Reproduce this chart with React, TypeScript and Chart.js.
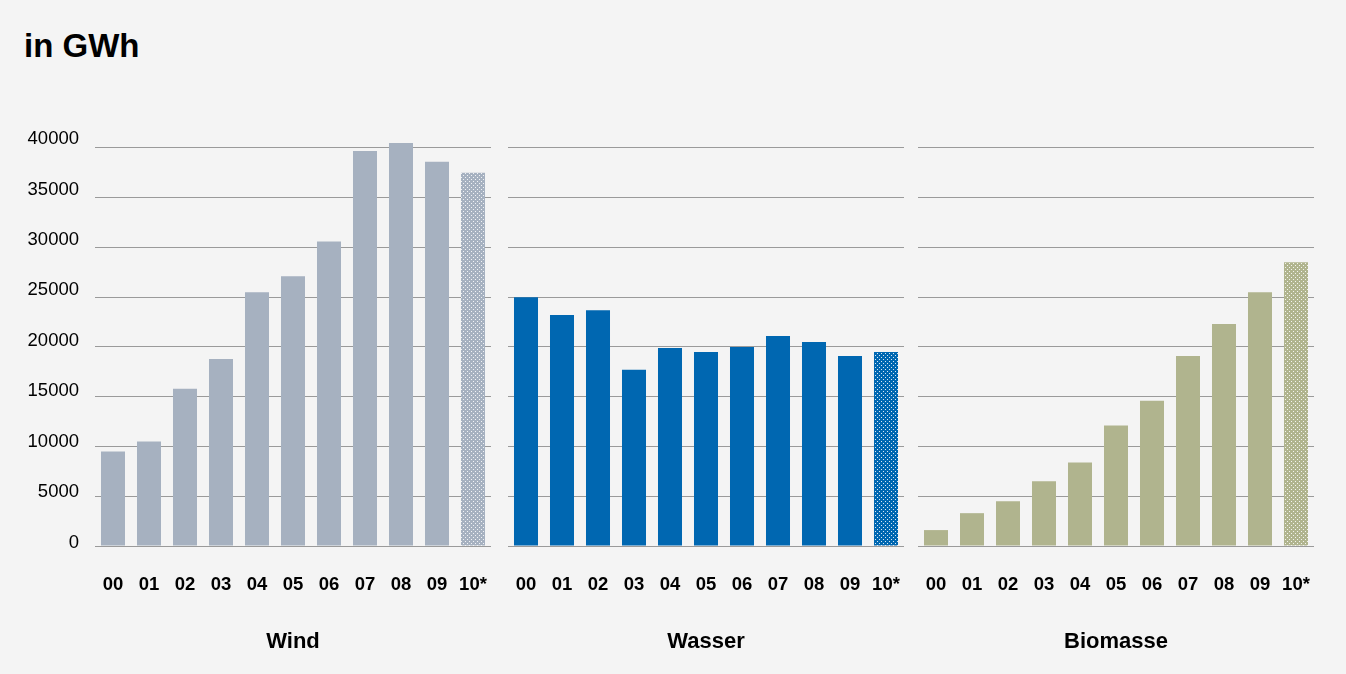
import React, { useEffect, useRef } from "react";
import { Chart, registerables } from "chart.js";

Chart.register(...registerables);

const FONT = '"Liberation Sans", Arial, Helvetica, sans-serif';

const years = ["00", "01", "02", "03", "04", "05", "06", "07", "08", "09", "10*"];
const windValues = [9500, 10500, 15800, 18800, 25500, 27100, 30600, 39700, 40500, 38600, 37500];
const wasserValues = [25000, 23200, 23700, 17700, 19900, 19500, 20000, 21100, 20500, 19100, 19500];
const biomasseValues = [1600, 3300, 4500, 6500, 8400, 12100, 14600, 19100, 22300, 25500, 28500];
const yTicks = [0, 5000, 10000, 15000, 20000, 25000, 30000, 35000, 40000];
const panelTitles = ["Wind", "Wasser", "Biomasse"];
const panelColors = ["#a6b1c0", "#0067b1", "#b0b48e"];
const panelValues = [windValues, wasserValues, biomasseValues];

const PANEL_LEFT = [0, 508, 918];
const PANEL_WIDTH = [491, 396, 396];

function makePattern(base: string): CanvasPattern | string {
  const c = document.createElement("canvas");
  c.width = 4;
  c.height = 4;
  const g = c.getContext("2d");
  if (!g) return base;
  g.fillStyle = base;
  g.fillRect(0, 0, 4, 4);
  g.fillStyle = "rgba(255,255,255,0.85)";
  g.fillRect(1, 1, 1, 1);
  g.fillRect(3, 3, 1, 1);
  return g.createPattern(c, "repeat") || base;
}

function Panel({ index }: { index: number }) {
  const ref = useRef<HTMLCanvasElement | null>(null);
  useEffect(() => {
    if (!ref.current) return;
    const color = panelColors[index];
    const values = panelValues[index];
    const pattern = makePattern(color);
    const bg = values.map((_, i) => (i === values.length - 1 ? pattern : color));
    const scales: any = {
      x: {
        type: "category",
        offset: true,
        grid: { display: false, drawTicks: false },
        border: { display: false },
        ticks: {
          font: { family: FONT, size: 18.5, weight: "bold" },
          color: "#000",
          padding: 28,
          maxRotation: 0,
          autoSkip: false,
        },
        title: {
          display: true,
          text: panelTitles[index],
          font: { family: FONT, size: 22, weight: "bold" },
          color: "#000",
          padding: { top: 0, bottom: 19 },
        },
        afterFit: (s: any) => {
          s.height = 128;
          s.paddingLeft = 0;
          s.paddingRight = 0;
        },
      },
      y: {
        position: "left",
        min: 0,
        max: 42000,
        afterBuildTicks: (s: any) => {
          s.ticks = yTicks.map((v) => ({ value: v }));
        },
        grid: { color: "#9a9a9a", lineWidth: 1, drawTicks: false },
        border: { display: false },
        ticks: { display: false },
        afterFit: (s: any) => {
          s.width = 0;
          s.paddingTop = 0;
          s.paddingBottom = 0;
        },
      },
    };
    if (index === 0) {
      scales.yl = {
        position: "left",
        min: -347,
        max: 41090,
        afterBuildTicks: (s: any) => {
          s.ticks = yTicks.map((v) => ({ value: v }));
        },
        grid: { display: false, drawTicks: false },
        border: { display: false },
        ticks: {
          font: { family: FONT, size: 18.5 },
          color: "#000",
          padding: 16,
          callback: (v: any) => String(v),
        },
        afterFit: (s: any) => {
          s.width = 95;
          s.paddingTop = 0;
          s.paddingBottom = 0;
        },
      };
    }
    const chart = new Chart(ref.current, {
      type: "bar",
      data: {
        labels: years,
        datasets: [
          {
            label: panelTitles[index],
            data: values,
            backgroundColor: bg as any,
            borderWidth: 0,
            barPercentage: 0.667,
            categoryPercentage: 1,
          },
        ],
      },
      options: {
        responsive: false,
        animation: false,
        devicePixelRatio: 1,
        layout: { padding: { top: 128, left: 0, right: 0, bottom: 0 } },
        plugins: { legend: { display: false }, tooltip: { enabled: false }, title: { display: false } },
        scales,
      },
    });
    return () => chart.destroy();
  }, [index]);
  return (
    <div style={{ position: "absolute", left: PANEL_LEFT[index], top: 0, width: PANEL_WIDTH[index], height: 674 }}>
      <canvas ref={ref} width={PANEL_WIDTH[index]} height={674} style={{ width: PANEL_WIDTH[index], height: 674, display: "block" }} />
    </div>
  );
}

export default function App() {
  return (
    <div
      style={{
        position: "fixed",
        left: 0,
        top: 0,
        width: 1346,
        height: 674,
        background: "#f4f4f4",
        overflow: "hidden",
        fontFamily: FONT,
      }}
    >
      <div
        style={{
          position: "absolute",
          left: 24,
          top: 29,
          fontSize: 33,
          lineHeight: "33px",
          fontWeight: "bold",
          color: "#000",
          whiteSpace: "nowrap",
        }}
      >
        in GWh
      </div>
      {[0, 1, 2].map((i) => (
        <Panel key={i} index={i} />
      ))}
    </div>
  );
}
